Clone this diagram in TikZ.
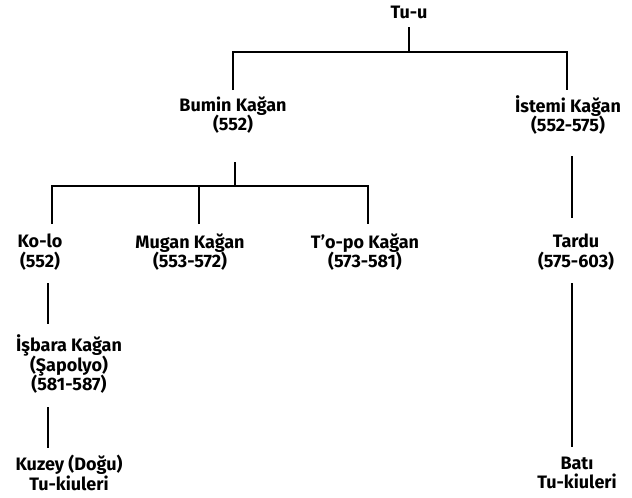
\documentclass[tikz,border=0pt]{standalone}
\usepackage{fontspec}
\setmainfont{Fira Sans}
\newcommand\mylblfont{\bfseries\fontsize{18}{19.5}\selectfont\lineskiplimit=-50pt\relax}
\begin{document}
\begin{tikzpicture}[x=1pt,y=-1pt,
  lbl/.style={font=\mylblfont,align=center,inner sep=0pt},
  conn/.style={line width=2.2pt}]
\useasboundingbox (0,0) rectangle (632,498);
\node[lbl] (tuu) at (409,12) {Tu-u};
\node[lbl] (bumin) at (233,115) {Bumin Kağan\\(552)};
\node[lbl] (istemi) at (568,115) {İstemi Kağan\\(552-575)};
\node[lbl] (kolo) at (40,252) {Ko-lo\\(552)};
\node[lbl] (mugan) at (190,252) {Mugan Kağan\\(553-572)};
\node[lbl] (topo) at (365,252) {T’o-po Kağan\\(573-581)};
\node[lbl] (tardu) at (576,252) {Tardu\\(575-603)};
\node[lbl] (isbara) at (69,364) {İşbara Kağan\\(Şapolyo)\\(581-587)};
\node[lbl] (kuzey) at (69,473) {Kuzey (Doğu)\\Tu-kiuleri};
\node[lbl] (bati) at (577,473) {Batı\\Tu-kiuleri};
\coordinate (j1) at (409,52);
\coordinate (j2) at (235,186);
% level 1
\draw[conn] (tuu) ++(0,15) -- (j1);
\draw[conn] (bumin) ++(0,-25) |- (j1) -| ([xshift=-1pt,yshift=25pt]istemi.center);
% level 2
\draw[conn] (bumin) ++(2,47) -- (j2);
\draw[conn] (kolo) ++(12,-28) |- (j2) -| ([xshift=3pt,yshift=28pt]topo.center);
\draw[conn] (mugan) ++(9,-28) -- ++(0,-38);
% right chain
\draw[conn] (istemi) ++(4,41) -- ++(0,62);
\draw[conn] (tardu) ++(-4,31) -- ++(0,164);
% left chain
\draw[conn] (kolo) ++(8,31) -- ++(0,41);
\draw[conn] (isbara) ++(-21,43) -- ++(0,41);
\end{tikzpicture}
\end{document}
